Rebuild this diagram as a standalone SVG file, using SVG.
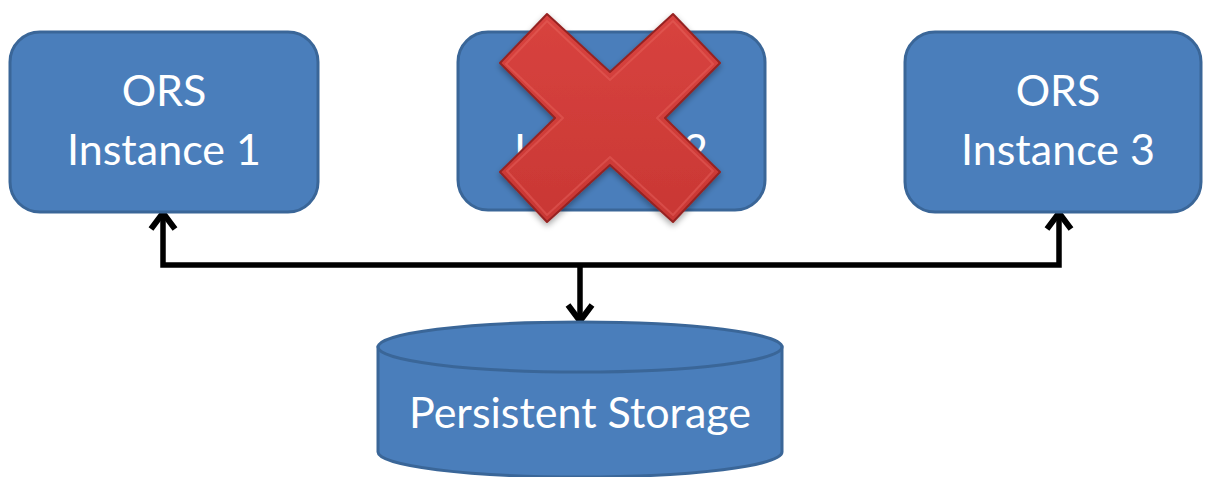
<svg xmlns="http://www.w3.org/2000/svg" width="1205" height="477" viewBox="0 0 1205 477">
  <style>
    .box { fill: #4A7EBB; stroke: #3A6698; stroke-width: 3; }
    .label { font-family: Lato, "Liberation Sans", sans-serif; font-size: 43px; fill: #FFFFFF; text-anchor: middle; }
    .wire { fill: none; stroke: #000000; stroke-width: 5.5; stroke-linejoin: miter; stroke-linecap: butt; }
  </style>
  <defs>
    <marker id="chev" markerUnits="userSpaceOnUse" markerWidth="40" markerHeight="40" viewBox="-30 -20 40 40" refX="-3" refY="0" orient="auto" overflow="visible">
      <path d="M -17 -12 L -1 0 L -17 12" fill="none" stroke="#000" stroke-width="6" stroke-linejoin="miter"/>
    </marker>
    <linearGradient id="crossFill" x1="0" y1="0" x2="0" y2="1">
      <stop offset="0" stop-color="#D8433F"/>
      <stop offset="1" stop-color="#C93734"/>
    </linearGradient>
    <filter id="shadow" x="-20%" y="-20%" width="140%" height="140%">
      <feGaussianBlur in="SourceAlpha" stdDeviation="3"/>
      <feOffset dx="0" dy="3" result="b"/>
      <feComponentTransfer><feFuncA type="linear" slope="0.35"/></feComponentTransfer>
      <feMerge><feMergeNode/><feMergeNode in="SourceGraphic"/></feMerge>
    </filter>
  </defs>

  <!-- connectors: shared bus from storage to each instance -->
  <g id="connectors">
    <path class="wire" d="M 580 265 L 163 265 L 163 215" marker-end="url(#chev)"/>
    <path class="wire" d="M 580 265 L 1059 265 L 1059 215" marker-end="url(#chev)"/>
    <path class="wire" d="M 580 265 L 580 319" marker-end="url(#chev)"/>
  </g>

  <g id="instance1">
    <rect class="box" x="10" y="32" width="308" height="180" rx="30" ry="30"/>
    <text class="label" x="164" y="106">ORS</text>
    <text class="label" x="164" y="165">Instance 1</text>
  </g>

  <g id="instance2">
    <rect class="box" x="458" y="32" width="307" height="178" rx="30" ry="30"/>
    <text class="label" x="611" y="106">ORS</text>
    <text class="label" x="611" y="165">Instance 2</text>
    <!-- failure mark over the instance -->
    <g filter="url(#shadow)">
      <polygon points="500,63 547,14 610,72 673,14 720,63 665,118 720,172 673,222 610,165 547,222 500,172 555,118"
               fill="url(#crossFill)" stroke="#962321" stroke-width="2" stroke-linejoin="round"/>
      <polygon points="506,64 547,21 610,80 673,21 713,64 657,118 713,171 673,215 610,157 547,215 507,171 563,118"
               fill="none" stroke="#E86560" stroke-width="2" stroke-opacity="0.45" stroke-linejoin="round"/>
    </g>
  </g>

  <g id="instance3">
    <rect class="box" x="905" y="32" width="296" height="180" rx="30" ry="30"/>
    <text class="label" x="1058" y="106">ORS</text>
    <text class="label" x="1058" y="165">Instance 3</text>
  </g>

  <g id="storage">
    <path class="box" d="M 378 347 L 378 452 A 202 25 0 0 0 782 452 L 782 347 Z"/>
    <ellipse class="box" cx="580" cy="347" rx="202" ry="25"/>
    <text class="label" x="580" y="428">Persistent Storage</text>
  </g>
</svg>
